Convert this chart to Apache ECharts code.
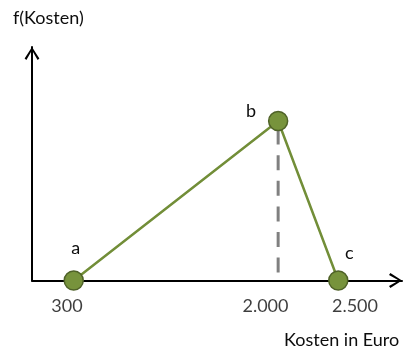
<!DOCTYPE html>
<html>
<head>
<meta charset="utf-8">
<script src="https://cdn.jsdelivr.net/npm/echarts@6/dist/echarts.min.js"></script>
<style>
html,body{margin:0;padding:0;background:#fff;}
#chart{width:404px;height:354px;}
</style>
</head>
<body>
<div id="chart"></div>
<script>
// ---- data ----
const pointNames = ['a', 'b', 'c'];
const costValues = [300, 2000, 2500];
const densityValues = [0, 1, 0];
const tickValues = [300, 2000, 2500];
const tickLabels = ['300', '2.000', '2.500'];
const yAxisTitle = 'f(Kosten)';
const xAxisTitle = 'Kosten in Euro';

// ---- styling ----
const FONT = 'Lato';
const TEXT = '#0d0d0d';
const pointLabelOffsets = [[2, -32], [-27, -10], [11, -27.5]];
const tickLabelOffsets = [[-6.7, 25.5], [-12.7, 25.5], [16.7, 25.5]];
const chevron = 'path://M7.5,0 L15,11.8 L13.2,13.2 L7.5,3.2 L1.8,13.2 L0,11.8 Z';

const modeIndex = densityValues.indexOf(Math.max(...densityValues));

const axisLineCommon = {
  show: true,
  onZero: false,
  symbol: ['none', chevron],
  symbolSize: [15, 13],
  symbolOffset: [0, -6.5],
  lineStyle: { color: '#000', width: 2 }
};

const chart = echarts.init(document.getElementById('chart'), null, { renderer: 'canvas' });
chart.setOption({
  animation: false,
  grid: { left: 32, right: 2, top: 47, bottom: 73.5, containLabel: false },
  xAxis: {
    type: 'value', min: -47, max: 3030,
    axisLine: axisLineCommon,
    axisTick: { show: false }, axisLabel: { show: false }, splitLine: { show: false }
  },
  yAxis: {
    type: 'value', min: 0, max: 1.464,
    axisLine: axisLineCommon,
    axisTick: { show: false }, axisLabel: { show: false }, splitLine: { show: false }
  },
  graphic: [
    { type: 'text', left: 13, top: 9,
      style: { text: yAxisTitle, font: '18px ' + FONT, fill: TEXT } },
    { type: 'text', left: 284, top: 331,
      style: { text: xAxisTitle, font: '18px ' + FONT, fill: TEXT } }
  ],
  series: [
    {
      type: 'line',
      silent: true,
      symbol: 'none',
      data: [[costValues[modeIndex], densityValues[modeIndex]], [costValues[modeIndex], 0]],
      lineStyle: { color: '#808080', width: 3, type: [15, 10.6], dashOffset: 17 },
      z: 2
    },
    {
      type: 'line',
      data: costValues.map((v, i) => ({
        value: [v, densityValues[i]],
        label: {
          show: true, position: 'inside', formatter: pointNames[i],
          offset: pointLabelOffsets[i]
        }
      })),
      symbol: 'circle',
      symbolSize: 19,
      lineStyle: { color: '#728E38', width: 2.5 },
      itemStyle: { color: '#77933C', borderColor: '#4F6228', borderWidth: 1.5 },
      label: { fontFamily: FONT, fontSize: 18, color: TEXT, align: 'center', verticalAlign: 'middle' },
      z: 3
    },
    {
      type: 'scatter',
      silent: true,
      symbolSize: 1,
      itemStyle: { color: 'rgba(0,0,0,0)' },
      data: tickValues.map((v, i) => ({
        value: [v, 0],
        label: {
          show: true, position: 'inside', formatter: tickLabels[i],
          offset: tickLabelOffsets[i]
        }
      })),
      label: { fontFamily: FONT, fontSize: 18, color: TEXT, align: 'center', verticalAlign: 'middle' },
      z: 4
    }
  ]
});
</script>
</body>
</html>
